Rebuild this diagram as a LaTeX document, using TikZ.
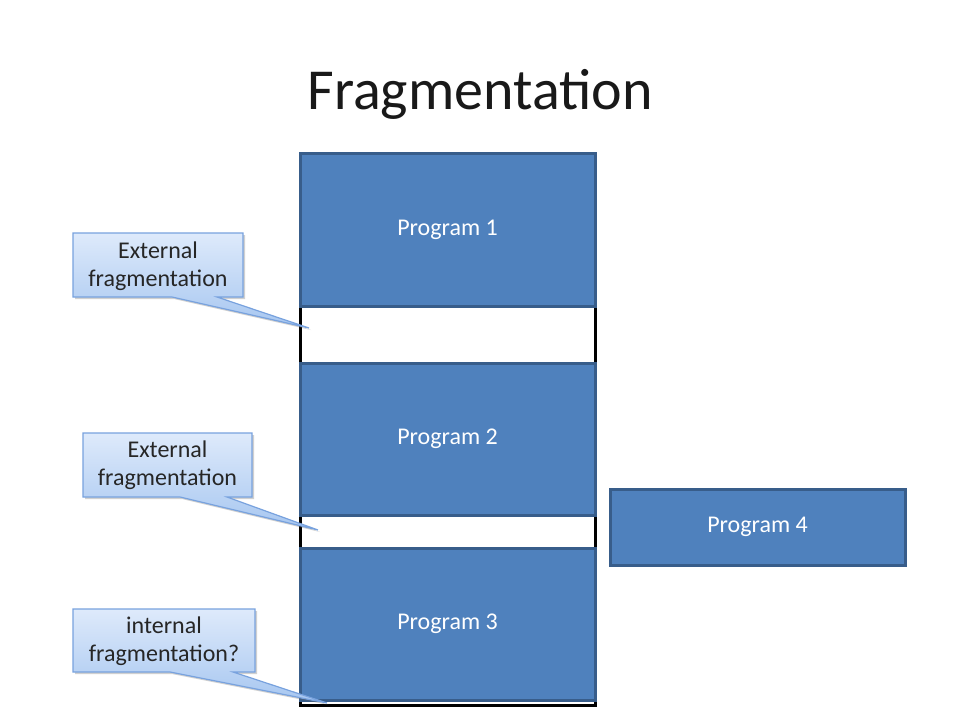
\documentclass[tikz,border=0pt]{standalone}
\usepackage{fontspec}
\setmainfont{Carlito}
\usetikzlibrary{shadows}
\definecolor{progfill}{RGB}{79,129,189}
\definecolor{progedge}{RGB}{56,93,138}
\definecolor{calltop}{RGB}{222,234,251}
\definecolor{callbot}{RGB}{166,198,240}
\definecolor{calledge}{RGB}{120,162,222}
\tikzset{
  program/.style={draw=progedge, line width=3pt, fill=progfill, text=white,
    minimum width=295pt, inner sep=0pt,
    font=\fontsize{24}{28}\selectfont},
  calltext/.style={inner sep=0pt, align=center, text=black!85,
    font=\fontsize{24}{28}\selectfont},
  callout/.style={draw=calledge, line width=1.2pt, top color=calltop, bottom color=callbot,
    line join=miter,
    drop shadow={shadow xshift=2pt, shadow yshift=-2pt, opacity=0.3, fill=black!60}},
  memframe/.style={draw=black, line width=3pt}
}
% callout box: #1 west x, #2 east x, #3 top y, #4 bottom y, #5 base left x, #6 base right x, #7 tip
\newcommand{\calloutbox}[7]{%
  \path[callout] (#1,#3) -- (#2,#3) -- (#2,#4) -- (#6,#4) -- (#7) -- (#5,#4) -- (#1,#4) -- cycle;
}
\begin{document}
\begin{tikzpicture}[x=1pt, y=-1pt]
\useasboundingbox[fill=white] (0,0) rectangle (960,720);

% title
\node[anchor=base, font=\fontsize{58}{64}\selectfont, text=black!90] (title) at (480,109) {Fragmentation};

% memory column outline
\draw[memframe] (300,153) -- (300,705) -- (595,705) -- (595,153);

% programs in memory
\node[program, minimum height=153pt] (p1) at (447.5,229.5) {Program 1};
\node[program, minimum height=152pt] (p2) at (447.5,439) {Program 2};
\node[program, minimum height=152pt] (p3) at (447.5,624) {Program 3};
\node[program, minimum height=76pt]  (p4) at (757.5,527) {Program 4};

% pointer tips of the callouts
\coordinate (tipA) at (309,328);
\coordinate (tipB) at (318,530);
\coordinate (tipC) at (327,703);

% callouts
\calloutbox{73}{243}{233}{297}{172}{217}{tipA}
\node[calltext] (cA) at (158,266) {External\\fragmentation};

\calloutbox{83}{252}{433}{497}{180}{227}{tipB}
\node[calltext] (cB) at (167.5,465) {External\\fragmentation};

\calloutbox{73}{255}{609}{672}{170}{233}{tipC}
\node[calltext] (cC) at (164,641) {internal\\fragmentation?};
\end{tikzpicture}
\end{document}
